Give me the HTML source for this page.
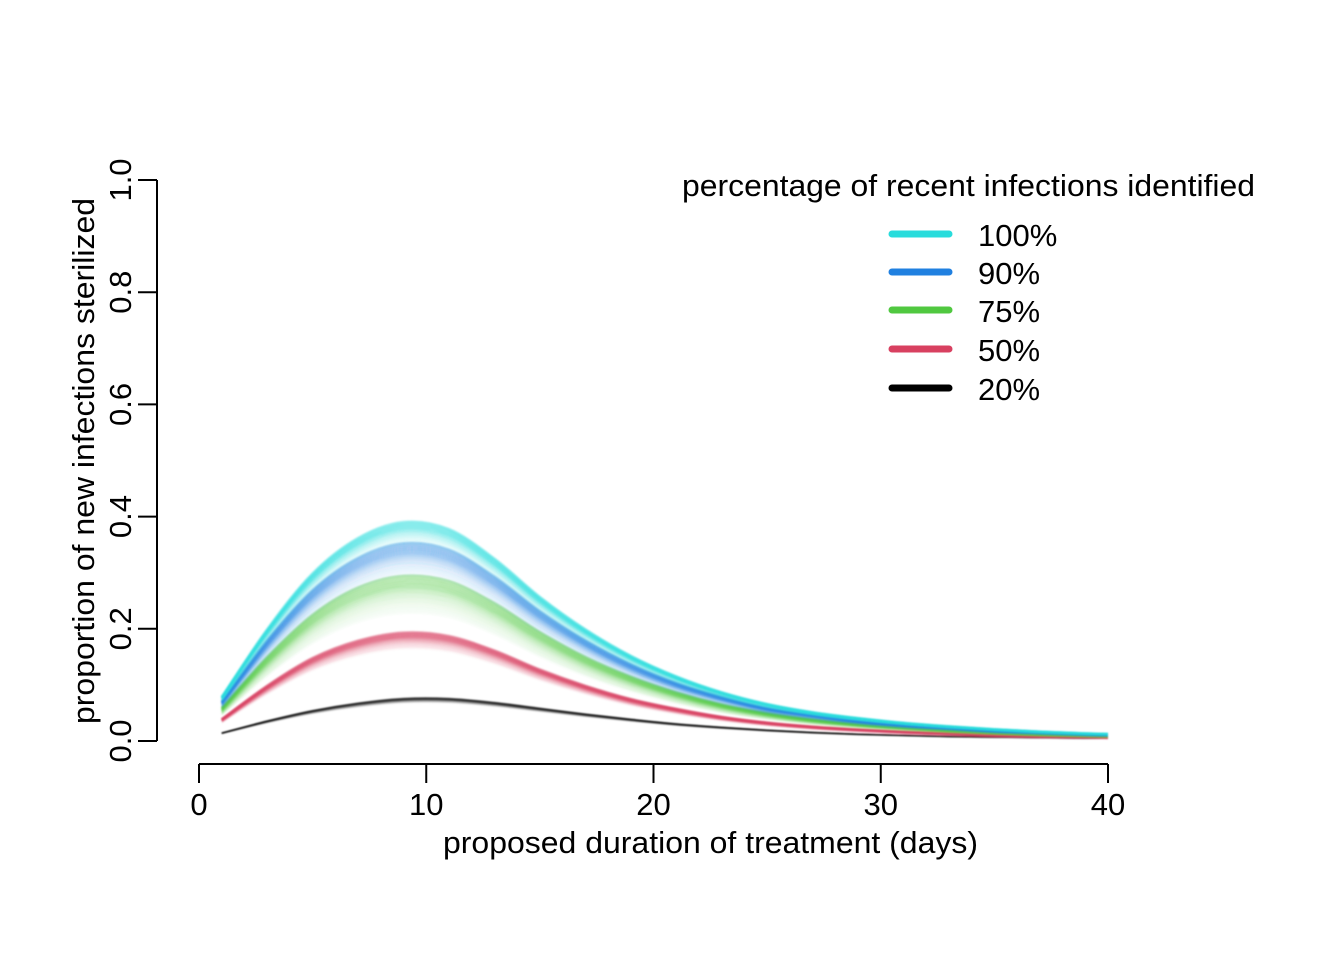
<!DOCTYPE html>
<html><head><meta charset="utf-8"><style>
html,body{margin:0;padding:0;background:#fff;}
svg text{font-family:"Liberation Sans",Arial,sans-serif;fill:#000;}
</style></head><body>
<svg id="chart" width="1344" height="960" viewBox="0 0 1344 960" xmlns="http://www.w3.org/2000/svg">
<defs><filter id="soft" x="-5%" y="-20%" width="110%" height="140%"><feGaussianBlur stdDeviation="0.8"/></filter></defs>
<g id="axes"></g>
<g id="series" filter="url(#soft)"></g>
<g id="legend"></g>
</svg>
<script>
const days = [1,3,5,7,9,11,13,15,17,19,21,23,25,27,29,31,33,35,37,39,40];
const s100 = [.075,.19,.285,.345,.372,.36,.31,.245,.19,.145,.11,.083,.063,.049,.039,.031,.025,.020,.016,.013,.012];
const s90  = [.068,.173,.259,.314,.339,.328,.282,.223,.173,.132,.100,.076,.057,.045,.035,.028,.023,.018,.015,.012,.011];
const s75  = [.058,.146,.219,.266,.286,.277,.239,.189,.146,.112,.085,.064,.049,.038,.030,.024,.019,.015,.012,.010,.009];
const s50  = [.038,.096,.144,.174,.188,.182,.157,.124,.096,.073,.056,.042,.032,.025,.020,.016,.013,.010,.008,.007,.006];
const s20  = [.014,.035,.053,.066,.074,.074,.067,.057,.047,.038,.030,.024,.019,.015,.012,.010,.008,.007,.006,.005,.005];
const seriesNames = ["100%","90%","75%","50%","20%"];
const seriesColors = ["#28DCDC","#2080E0","#50C840","#D84060","#000000"];
const xTicks = [0,10,20,30,40];
const yTicks = ["0.0","0.2","0.4","0.6","0.8","1.0"];

const NS="http://www.w3.org/2000/svg";
const X = d => 199 + d*(1108-199)/40;
const Y = v => 741 - v*561;
function mk(tag, attrs, parent){const e=document.createElementNS(NS,tag);for(const k in attrs)e.setAttribute(k,attrs[k]);parent.appendChild(e);return e;}
const FS=31;
const axes=document.getElementById('axes');
let yl=mk('line',{x1:157,x2:157,y1:Y(0),y2:Y(1),stroke:'#000','stroke-width':2},axes);


yTicks.forEach(t=>{
  const v=parseFloat(t);
  const l=mk('line',{x1:138,x2:157,y1:Y(v),y2:Y(v),stroke:'#000','stroke-width':2},axes);
  
  
  const tx=mk('text',{x:0,y:0,'font-size':FS,'text-anchor':'middle',transform:`translate(131,${Y(v)}) rotate(-90)`},axes);
  tx.textContent=t;
  
  
});
let xl=mk('line',{x1:X(0),x2:X(40),y1:764,y2:764,stroke:'#000','stroke-width':2},axes);


xTicks.forEach(t=>{
  const l=mk('line',{x1:X(t),x2:X(t),y1:764,y2:783,stroke:'#000','stroke-width':2},axes);
  
  
  const tx=mk('text',{x:X(t),y:815,'font-size':FS,'text-anchor':'middle'},axes);
  tx.textContent=t;
  
  
});
let xt=mk('text',{x:443,y:853,'font-size':FS,textLength:535,lengthAdjust:'spacingAndGlyphs'},axes);
xt.textContent='proposed duration of treatment (days)';


let yt=mk('text',{x:0,y:0,'font-size':FS,textLength:526,lengthAdjust:'spacingAndGlyphs',transform:'translate(94,724) rotate(-90)'},axes);
yt.textContent='proportion of new infections sterilized';



function pathFor(vals,scale){
  const p=days.map((d,i)=>[X(d),Y(vals[i]*scale)]);
  let s=`M${p[0][0]},${p[0][1]}`;
  for(let i=0;i<p.length-1;i++){
    const p0=p[Math.max(0,i-1)],p1=p[i],p2=p[i+1],p3=p[Math.min(p.length-1,i+2)];
    const c1=[p1[0]+(p2[0]-p0[0])/6,p1[1]+(p2[1]-p0[1])/6];
    const c2=[p2[0]-(p3[0]-p1[0])/6,p2[1]-(p3[1]-p1[1])/6];
    s+=` C${c1[0]},${c1[1]} ${c2[0]},${c2[1]} ${p2[0]},${p2[1]}`;
  }
  return s;
}
const sg=document.getElementById('series');
const allSeries=[s100,s90,s75,s50,s20];
const up=[0.05,0.04,0.03,0.03,0.03];
const down=[0.06,0.13,0.2,0.12,0.08];
[4,3,2,1,0].forEach(i=>{
  const g=mk('g',{},sg);
  
  
  const N=16;
  for(let k=0;k<=N;k++){
    const f=k/N;
    const sc=1+up[i]-(up[i]+down[i])*f;
    const op=(i==4?0.35:0.38)*(f<0.3?1:Math.pow(0.82,(f-0.3)*N));
    const pth=mk('path',{d:pathFor(allSeries[i],sc),fill:'none',stroke:seriesColors[i],'stroke-width':i==4?1.3:2.5,'stroke-opacity':op},g);
    
    
  }
});

const lg=document.getElementById('legend');
let lt=mk('text',{x:682,y:196,'font-size':FS,textLength:573,lengthAdjust:'spacingAndGlyphs'},lg);
lt.textContent='percentage of recent infections identified';


const ly=[234,272,310,349,388];
seriesNames.forEach((n,i)=>{
  const l=mk('line',{x1:892,x2:949,y1:ly[i],y2:ly[i],stroke:seriesColors[i],'stroke-width':7,'stroke-linecap':'round'},lg);
  
  
  const t=mk('text',{x:978,y:ly[i]+12,'font-size':FS},lg);
  t.textContent=n;
  
  
});
</script>
</body></html>
